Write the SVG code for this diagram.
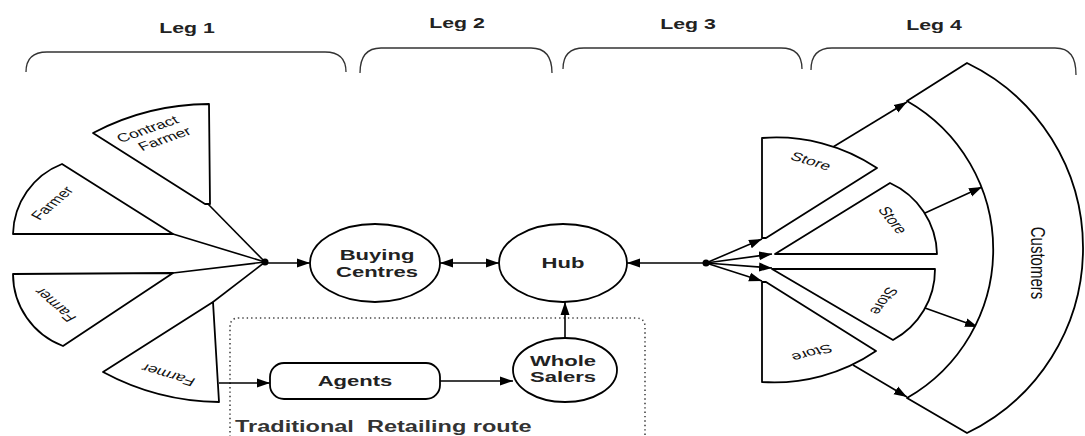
<svg xmlns="http://www.w3.org/2000/svg" width="1085" height="436" viewBox="0 0 1085 436">
  <defs>
    <marker id="arrow" markerUnits="userSpaceOnUse" markerWidth="14" markerHeight="10" refX="13" refY="5" orient="auto-start-reverse">
      <path d="M0,0.5 L13,5 L0,9.5 Z" fill="#000"/>
    </marker>
    <style>
      .shape { fill: #fff; stroke: #000; stroke-width: 1.8; stroke-linejoin: round; }
      .node { fill: #fff; stroke: #000; stroke-width: 1.8; }
      .link { fill: none; stroke: #000; stroke-width: 1.6; }
      .brace { fill: none; stroke: #333; stroke-width: 1.3; }
      .route { fill: none; stroke: #444; stroke-width: 1.6; stroke-dasharray: 1.4 3; }
      .lbl { font-family: "Liberation Sans", Arial, sans-serif; font-weight: bold; font-size: 15px; fill: #222; text-anchor: middle; }
      .leg { font-family: "Liberation Sans", Arial, sans-serif; font-weight: bold; font-size: 14.5px; fill: #222; text-anchor: middle; }
      .sm { font-family: "Liberation Sans", Arial, sans-serif; font-size: 12px; fill: #111; text-anchor: middle; }
      .cust { font-family: "Liberation Sans", Arial, sans-serif; font-size: 15px; fill: #111; text-anchor: middle; }
      .route-txt { font-family: "Liberation Sans", Arial, sans-serif; font-weight: bold; font-size: 16px; fill: #333; }
    </style>
  </defs>

  <rect width="1085" height="436" fill="#fff"/>

  <!-- leg headings and braces -->
  <g id="legs">
    <text class="leg" transform="translate(187,33) scale(1.47,1)">Leg 1</text>
    <text class="leg" transform="translate(457,28) scale(1.47,1)">Leg 2</text>
    <text class="leg" transform="translate(688,29) scale(1.47,1)">Leg 3</text>
    <text class="leg" transform="translate(934,30) scale(1.47,1)">Leg 4</text>
    <path class="brace" d="M26,72 C26,60 32,52 47,52 L325,52 C340,52 346,60 346,72"/>
    <path class="brace" d="M360,73 C360,58 366,48 381,48 L531,48 C546,48 552,58 552,73"/>
    <path class="brace" d="M563,69 C563,56 569,48 584,48 L781,48 C796,48 802,56 802,69"/>
    <path class="brace" d="M811,70 C811,57 817,48 832,48 L1055,48 C1070,48 1076,57 1076,75"/>
  </g>

  <!-- traditional retailing route boundary -->
  <g id="traditional-route">
    <path class="route" d="M230,450 L230,327 Q230,318 239,318 L636,318 Q645,318 645,327 L645,450"/>
    <text class="route-txt" transform="translate(235,432) scale(1.47,1)">Traditional&#160; Retailing route</text>
  </g>

  <!-- connectors -->
  <g id="connectors">
    <circle cx="265" cy="262" r="3.5" fill="#000"/>
    <line class="link" x1="208" y1="204" x2="265" y2="262"/>
    <line class="link" x1="173" y1="234" x2="265" y2="262"/>
    <line class="link" x1="173" y1="273" x2="265" y2="262"/>
    <line class="link" x1="213" y1="302" x2="265" y2="262"/>
    <line class="link" x1="265" y1="263" x2="310" y2="263" marker-end="url(#arrow)"/>
    <line class="link" x1="440" y1="263" x2="499" y2="263" marker-start="url(#arrow)" marker-end="url(#arrow)"/>
    <line class="link" x1="219" y1="383" x2="270" y2="383" marker-end="url(#arrow)"/>
    <line class="link" x1="440" y1="381" x2="513" y2="381" marker-end="url(#arrow)"/>
    <line class="link" x1="565" y1="338" x2="565" y2="302" marker-end="url(#arrow)"/>

    <circle cx="706" cy="263" r="3.5" fill="#000"/>
    <line class="link" x1="706" y1="263" x2="627" y2="263" marker-end="url(#arrow)"/>
    <line class="link" x1="706" y1="263" x2="762" y2="239" marker-end="url(#arrow)"/>
    <line class="link" x1="706" y1="263" x2="772" y2="254" marker-end="url(#arrow)"/>
    <line class="link" x1="706" y1="263" x2="772" y2="268" marker-end="url(#arrow)"/>
    <line class="link" x1="706" y1="263" x2="762" y2="281" marker-end="url(#arrow)"/>

    <line class="link" x1="833" y1="147" x2="907" y2="102" marker-end="url(#arrow)"/>
    <line class="link" x1="925" y1="213" x2="982" y2="187" marker-end="url(#arrow)"/>
    <line class="link" x1="925" y1="308" x2="978" y2="327" marker-end="url(#arrow)"/>
    <line class="link" x1="853" y1="365" x2="907" y2="397" marker-end="url(#arrow)"/>
  </g>

  <!-- suppliers -->
  <g id="contract-farmer">
    <path class="shape" d="M93,133 A250,250 0 0 1 209,104 L210,204 L205,204 Z"/>
    <g transform="translate(156,134) scale(1.47,1) rotate(-27)">
      <text class="sm" x="-3" y="-3">Contract</text>
      <text class="sm" x="3" y="11">Farmer</text>
    </g>
  </g>
  <g id="farmer-1">
    <path class="shape" d="M62,164 A77,77 0 0 0 13,234 L173,234 Z"/>
    <text class="sm" transform="translate(52,203) scale(1.47,1) rotate(-52)" dy="0.35em">Farmer</text>
  </g>
  <g id="farmer-2">
    <path class="shape" d="M13,274 L173,273 L63,346 A77,77 0 0 1 13,274 Z"/>
    <text class="sm" transform="translate(55,305) scale(1.47,1) rotate(-128)" dy="0.35em">Farmer</text>
  </g>
  <g id="farmer-3">
    <path class="shape" d="M213,302 L103,372 A250,250 0 0 0 219,402 Z"/>
    <text class="sm" transform="translate(168,375) scale(1.47,1) rotate(-156)" dy="0.35em">Farmer</text>
  </g>

  <!-- intermediaries -->
  <g id="buying-centres">
    <ellipse class="node" cx="375" cy="263" rx="65" ry="39"/>
    <text class="lbl" transform="translate(377,260) scale(1.47,1)">Buying</text>
    <text class="lbl" transform="translate(377,277) scale(1.47,1)">Centres</text>
  </g>
  <g id="hub">
    <ellipse class="node" cx="563" cy="263" rx="64" ry="39"/>
    <text class="lbl" transform="translate(563,268) scale(1.47,1)">Hub</text>
  </g>
  <g id="agents">
    <rect class="node" x="270" y="363" width="170" height="36" rx="14"/>
    <text class="lbl" transform="translate(355,386) scale(1.47,1)">Agents</text>
  </g>
  <g id="whole-salers">
    <ellipse class="node" cx="565" cy="370" rx="52" ry="32"/>
    <text class="lbl" transform="translate(563,366) scale(1.47,1)">Whole</text>
    <text class="lbl" transform="translate(563,382) scale(1.47,1)">Salers</text>
  </g>

  <!-- stores -->
  <g id="store-1">
    <path class="shape" d="M762,138 A181,181 0 0 1 877,168 L766,238 L762,238 Z"/>
    <text class="sm" transform="translate(811,161) scale(1.47,1) rotate(24)" dy="0.35em">Store</text>
  </g>
  <g id="store-2">
    <path class="shape" d="M775,254 L890,183 A80,80 0 0 1 937,254 Z"/>
    <text class="sm" transform="translate(893,220) scale(1.47,1) rotate(61)" dy="0.35em">Store</text>
  </g>
  <g id="store-3">
    <path class="shape" d="M772,269 L935,269 A80,80 0 0 1 893,340 Z"/>
    <text class="sm" transform="translate(884,301) scale(1.47,1) rotate(116)" dy="0.35em">Store</text>
  </g>
  <g id="store-4">
    <path class="shape" d="M762,282 L766,282 L876,351 A181,181 0 0 1 762,382 Z"/>
    <text class="sm" transform="translate(812,353) scale(1.47,1) rotate(158)" dy="0.35em">Store</text>
  </g>

  <!-- customers band -->
  <g id="customers">
    <path class="shape" d="M907,101 L967,63 A205.5,205.5 0 0 1 967,433 L907,398 A171,171 0 0 0 907,101 Z"/>
    <text class="cust" transform="translate(1038,263) scale(1.3,1) rotate(90)" dy="0.35em">Customers</text>
  </g>
</svg>
